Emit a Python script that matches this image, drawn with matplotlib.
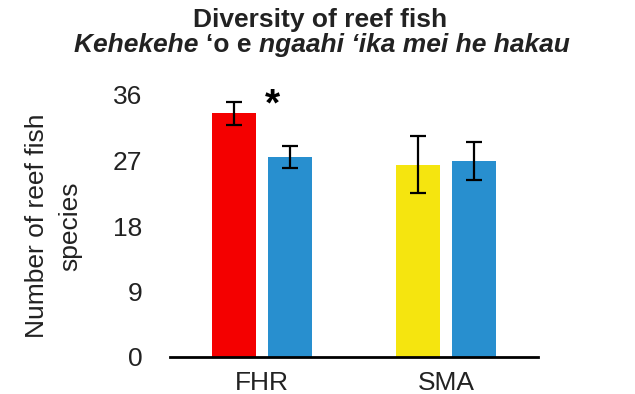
import matplotlib.pyplot as plt
import numpy as np

plt.rcParams['font.family'] = ['Liberation Sans', 'DejaVu Sans']

# Data
sites = ["FHR", "SMA"]
left_vals = [33.5, 26.4]
left_err = [1.6, 3.9]
left_colors = ["#F40000", "#F5E50F"]
right_vals = [27.5, 26.9]
right_err = [1.55, 2.6]
right_color = "#288FCF"
yticks = [0, 9, 18, 27, 36]

fig = plt.figure(figsize=(6.35, 3.94), dpi=100)
ax = fig.add_axes([170 / 635, 1 - 357 / 394, (538 - 170) / 635, (357 - 95) / 394])

x = np.arange(len(sites))
w = 0.24
off = 0.15
ekw = dict(ecolor="black", elinewidth=1.6, capsize=6, capthick=1.6)
ax.bar(x - off, left_vals, w, color=left_colors, yerr=left_err, error_kw=ekw)
ax.bar(x + off, right_vals, w, color=right_color, yerr=right_err, error_kw=ekw)

# significance marker
ax.text(0.058, 34.6, "*", fontsize=28, fontweight="bold", ha="center", va="center",
        clip_on=False)

ax.set_xlim(-0.5, 1.5)
ax.set_ylim(0, 36)
ax.set_xticks(x)
ax.set_xticklabels(sites, fontsize=19, color="#222222")
ax.set_yticks(yticks)
ax.set_yticklabels([str(t) for t in yticks], fontsize=19, color="#222222")
ax.tick_params(axis="y", length=0, pad=20)
ax.tick_params(axis="x", length=0, pad=10)
for s in ["top", "right", "left"]:
    ax.spines[s].set_visible(False)
ax.spines["bottom"].set_linewidth(2)

ax.set_ylabel("Number of reef fish\nspecies", fontsize=19, labelpad=22,
              linespacing=1.5, color="#222222")

# title
fig.text(320 / 635, 1 - 27 / 394, "Diversity of reef fish", fontsize=19,
         fontweight="bold", ha="center", va="baseline", color="#222222")

# subtitle with mixed style
pieces = [("Kehekehe ", "italic"), ("\u2018o e ", "normal"),
          ("ngaahi \u2018ika mei he hakau", "italic")]
texts = []
for s, st in pieces:
    t = fig.text(0, 1 - 52 / 394, s, fontsize=19, fontweight="bold", style=st,
                 ha="left", va="baseline", color="#222222")
    texts.append(t)
fig.canvas.draw()
r = fig.canvas.get_renderer()
widths = [t.get_window_extent(r).width for t in texts]
total = sum(widths)
xpos = 322 - total / 2
for t, wd in zip(texts, widths):
    t.set_x(xpos / 635)
    xpos += wd

fig.savefig("out.png", dpi=100)
